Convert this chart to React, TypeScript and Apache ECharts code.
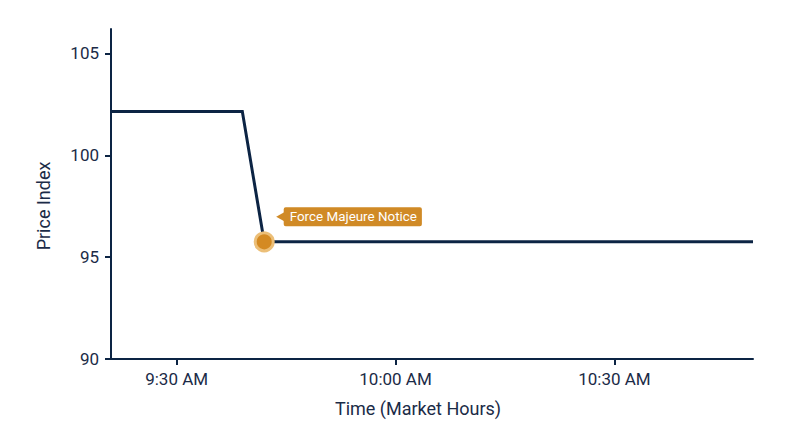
import React, { useEffect, useRef } from "react";
import * as echarts from "echarts";

const times = ["09:21", "09:39", "09:42", "10:49"];
const prices = [102.15, 102.15, 95.75, 95.75];
const eventTime = "09:42";
const eventPrice = 95.75;
const eventLabel = "Force Majeure Notice";
const xTicks = ["09:30", "10:00", "10:30"];
const yTicks = [90, 95, 100, 105];
const yMin = 90;
const yMax = 106.2;

const toMin = (t: string) => {
  const [h, m] = t.split(":").map(Number);
  return h * 60 + m;
};
const fmt = (v: number) => {
  const h = Math.floor(v / 60);
  const m = Math.round(v % 60);
  const hh = h > 12 ? h - 12 : h;
  return `${hh}:${m.toString().padStart(2, "0")} ${h >= 12 ? "PM" : "AM"}`;
};

const NAVY = "#0c2444";
const TEXT = "#1b2b47";

export default function App() {
  const ref = useRef<HTMLDivElement>(null);
  useEffect(() => {
    document.body.style.margin = "0";
    const chart = echarts.init(ref.current!, null, { renderer: "svg" });
    const lineData = times.map((t, i) => [toMin(t), prices[i]]);
    chart.setOption({
      animation: false,
      backgroundColor: "#ffffff",
      textStyle: { fontFamily: "Roboto" },
      grid: { left: 111, right: 47, top: 29, bottom: 88, containLabel: false, outerBoundsMode: "none" },
      xAxis: {
        type: "value",
        min: toMin(times[0]),
        max: toMin(times[times.length - 1]),
        name: "Time (Market Hours)",
        nameLocation: "middle",
        nameGap: 40,
        nameTextStyle: { color: TEXT, fontSize: 18, fontFamily: "Roboto", padding: [0, 28, 0, 0] },
        axisLine: { show: true, lineStyle: { color: NAVY, width: 2 } },
        axisTick: { show: true, length: 6, lineStyle: { color: NAVY, width: 2 }, customValues: xTicks.map(toMin) },
        axisLabel: {
          color: TEXT,
          fontSize: 17,
          margin: 11,
          fontFamily: "Roboto",
          customValues: xTicks.map(toMin),
          formatter: (v: number) => fmt(v),
        },
        splitLine: { show: false },
      },
      yAxis: {
        type: "value",
        min: yMin,
        max: yMax,
        name: "Price Index",
        nameLocation: "middle",
        nameGap: 59,
        nameTextStyle: { color: TEXT, fontSize: 18, fontFamily: "Roboto", padding: [0, 24, 0, 0] },
        axisLine: { show: true, lineStyle: { color: NAVY, width: 2 } },
        axisTick: { show: true, length: 6, lineStyle: { color: NAVY, width: 2 }, customValues: yTicks },
        axisLabel: { color: TEXT, fontSize: 17, margin: 12, fontFamily: "Roboto", customValues: yTicks },
        splitLine: { show: false },
      },
      series: [
        {
          type: "line",
          data: lineData,
          showSymbol: false,
          lineStyle: { color: NAVY, width: 3, join: "miter" },
          z: 2,
        },
        {
          type: "scatter",
          data: [[toMin(eventTime), eventPrice]],
          symbol: "triangle",
          symbolSize: [9, 8],
          symbolRotate: 90,
          symbolOffset: [16, -25],
          itemStyle: { color: "#d08a26", opacity: 1 },
          z: 3,
        },
        {
          type: "scatter",
          data: [[toMin(eventTime), eventPrice]],
          symbolSize: 18,
          itemStyle: { color: "#d48a22", borderColor: "#ecbf78", borderWidth: 3, opacity: 1 },
          label: {
            show: true,
            formatter: eventLabel,
            position: "right",
            distance: 9,
            offset: [0, -25],
            backgroundColor: "#d08a26",
            color: "#ffffff",
            fontSize: 13.4,
            fontWeight: "normal",
            fontFamily: "Roboto",
            padding: [3, 5, 3, 6],
            borderRadius: 2,
          },
          z: 4,
        },
      ],
    });
    return () => chart.dispose();
  }, []);
  return <div ref={ref} style={{ width: 800, height: 447 }} />;
}
